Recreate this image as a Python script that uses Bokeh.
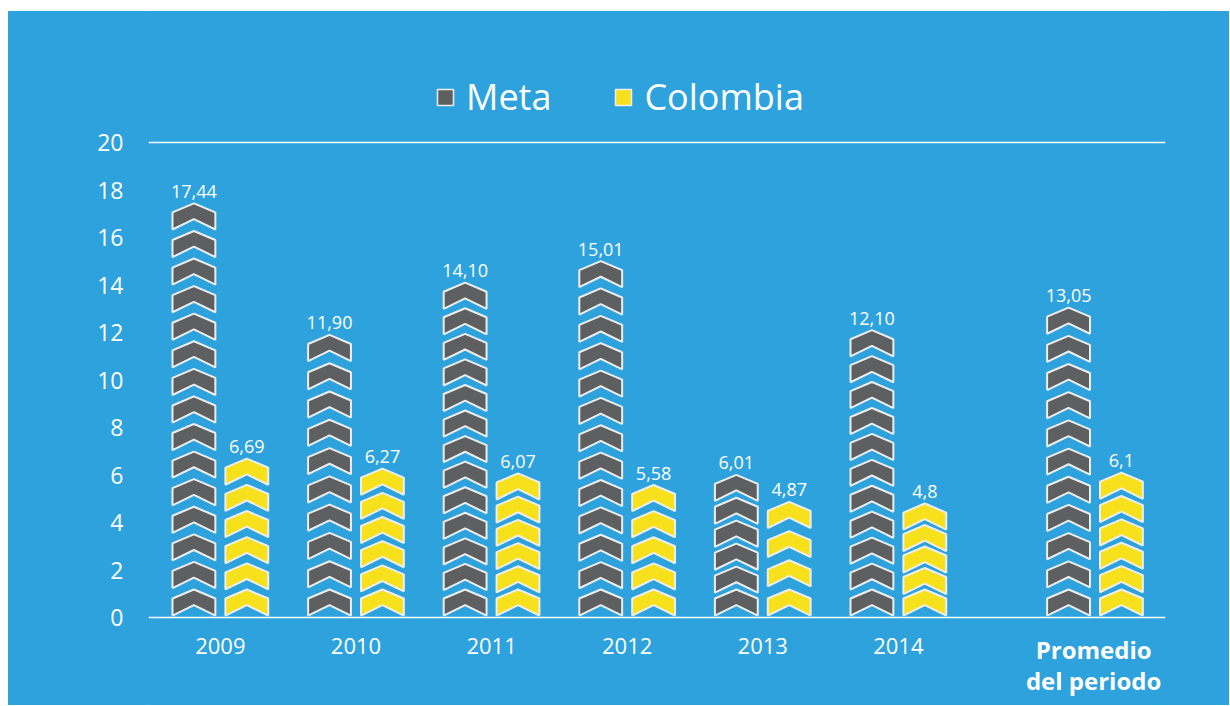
from bokeh.plotting import figure
from bokeh.models import (ColumnDataSource, Range1d, FixedTicker, Legend,
                          LegendItem, Label, Spacer)
from bokeh.layouts import column, row
from bokeh.embed import file_html
from bokeh.resources import INLINE
from bokeh.core.properties import value

# ---------------- data ----------------
categories = ["2009", "2010", "2011", "2012", "2013", "2014", "Promedio del periodo"]
meta_values = [17.44, 11.90, 14.10, 15.01, 6.01, 12.10, 13.05]
colombia_values = [6.69, 6.27, 6.07, 5.58, 4.87, 4.80, 6.10]
meta_labels = ["17,44", "11,90", "14,10", "15,01", "6,01", "12,10", "13,05"]
colombia_labels = ["6,69", "6,27", "6,07", "5,58", "4,87", "4,8", "6,1"]
meta_chevrons = [15, 10, 13, 13, 6, 11, 11]
colombia_chevrons = [6, 6, 6, 5, 4, 5, 6]
y_ticks = [0, 2, 4, 6, 8, 10, 12, 14, 16, 18, 20]

# ---------------- style / layout ----------------
BG = "#2DA2DC"
GRAY = "#5E5F61"
YELLOW = "#F7E11C"
OUTLINE = "#EEEEEE"
FONT = "Open Sans"

cat_x = [0, 1, 2, 3, 4, 5, 6.45]
OFFSET = 0.195
HALF_W = 0.158
CH_H = 1.10
CH_SH = 0.38
CH_IN = 0.66
BASE = 0.08


def chevron_stack(cx, top, n):
    xs, ys = [], []
    step = (top - CH_H - BASE) / (n - 1) if n > 1 else 0
    for i in range(n):
        t = BASE + CH_H + i * step
        xs.append([cx, cx + HALF_W, cx + HALF_W, cx, cx - HALF_W, cx - HALF_W])
        ys.append([t, t - CH_SH, t - CH_H, t - CH_IN, t - CH_H, t - CH_SH])
    return xs, ys


def build(values, counts, offset):
    XS, YS = [], []
    for cx, v, n in zip(cat_x, values, counts):
        xs, ys = chevron_stack(cx + offset, v, n)
        XS += xs
        YS += ys
    return ColumnDataSource(dict(xs=XS, ys=YS))


p = figure(width=1221, height=694, output_backend="svg", toolbar_location=None,
           x_range=Range1d(-0.53, 6.97), y_range=Range1d(-3.705, 25.52),
           min_border_left=140, min_border_right=64, min_border_top=0,
           min_border_bottom=0)
p.background_fill_color = BG
p.border_fill_color = BG
p.outline_line_color = None
p.styles = {"background-color": BG}

p.patches("xs", "ys", source=build(meta_values, meta_chevrons, -OFFSET),
          fill_color=GRAY, line_color=OUTLINE, line_width=2)
p.patches("xs", "ys", source=build(colombia_values, colombia_chevrons, OFFSET),
          fill_color=YELLOW, line_color=OUTLINE, line_width=2)

lab_src = ColumnDataSource(dict(
    x=[c - OFFSET for c in cat_x] + [c + OFFSET for c in cat_x],
    y=meta_values + colombia_values,
    t=meta_labels + colombia_labels))
p.text("x", "y", text="t", source=lab_src, text_align="center",
       text_baseline="alphabetic", y_offset=-12, text_color="white",
       text_font=value(FONT), text_font_size="18px")

# grid: only top line at 20
p.xgrid.visible = False
p.ygrid.ticker = FixedTicker(ticks=[y_ticks[-1]])
p.ygrid.grid_line_color = "white"
p.ygrid.grid_line_width = 1.5

# y axis
p.yaxis.ticker = FixedTicker(ticks=y_ticks)
p.yaxis.axis_line_color = None
p.yaxis.major_tick_line_color = None
p.yaxis.minor_tick_line_color = None
p.yaxis.major_tick_out = 0
p.yaxis.major_tick_in = 0
p.yaxis.major_label_standoff = 25
p.yaxis.major_label_text_color = "white"
p.yaxis.major_label_text_font = FONT
p.yaxis.major_label_text_font_size = "23px"

# x axis (drawn at y = 0 inside the plot area)
p.xaxis.fixed_location = 0
p.xaxis.ticker = FixedTicker(ticks=cat_x[:6])
p.xaxis.major_label_overrides = {cat_x[i]: categories[i] for i in range(6)}
p.xaxis.axis_line_color = "white"
p.xaxis.axis_line_width = 1.5
p.xaxis.major_tick_line_color = None
p.xaxis.minor_tick_line_color = None
p.xaxis.major_tick_out = 0
p.xaxis.major_tick_in = 0
p.xaxis.major_label_standoff = 20
p.xaxis.major_label_text_color = "white"
p.xaxis.major_label_text_font = FONT
p.xaxis.major_label_text_font_size = "22px"

words = categories[6].split(" ", 1)
for txt, yy in [(words[0], -1.34), (words[1], -2.66)]:
    p.add_layout(Label(x=cat_x[6] - 0.01, y=yy, text=txt, text_align="center",
                       text_baseline="middle", text_color="white",
                       text_font=FONT, text_font_style="bold",
                       text_font_size="24px"))

# legend (proxy renderers placed far outside the visible ranges)
r1 = p.vbar(x=[-50], bottom=[-60], top=[-59], width=0.3, fill_color=GRAY,
            line_color=OUTLINE, line_width=1.5)
r2 = p.vbar(x=[-50], bottom=[-60], top=[-59], width=0.3, fill_color=YELLOW,
            line_color=OUTLINE, line_width=1.5)
legend = Legend(items=[LegendItem(label="Meta", renderers=[r1]),
                       LegendItem(label="Colombia", renderers=[r2])],
                orientation="horizontal", location=(287, 584),
                background_fill_alpha=0, border_line_alpha=0,
                padding=0, margin=0, spacing=62,
                glyph_width=20, glyph_height=20, label_standoff=11,
                label_text_font=FONT, label_text_font_size="36px",
                label_text_color="white")
p.add_layout(legend, "center")

layout = column(Spacer(width=10, height=11), row(Spacer(width=8, height=10), p))
open("out.html", "w").write(file_html(layout, INLINE))
